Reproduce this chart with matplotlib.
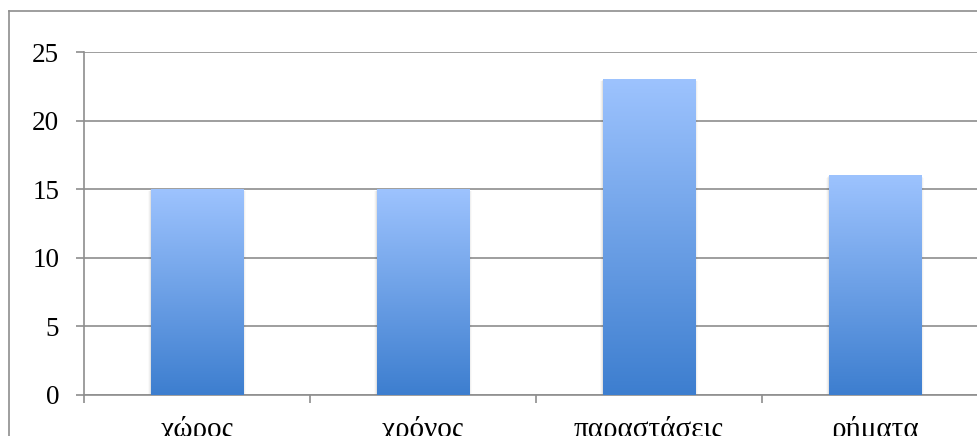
import numpy as np
import matplotlib
matplotlib.use("Agg")
import matplotlib.pyplot as plt
from matplotlib.patches import Rectangle
from matplotlib.colors import LinearSegmentedColormap

# ── DATA ──────────────────────────────────────────────────────────────────────
categories = ["χώρος", "χρόνος", "παραστάσεις", "ρήματα"]
values     = [15, 15, 23, 16]
y_ticks    = [0, 5, 10, 15, 20, 25]

# ── STYLE ─────────────────────────────────────────────────────────────────────
W, H, DPI = 978, 436, 100
GRID_C = "#8e8e8e"
TOP_C, BOT_C = "#9dc3fe", "#3d7ecf"
BAR_W = 0.41

plt.rcParams["font.family"] = ["Liberation Serif", "DejaVu Serif"]

fig = plt.figure(figsize=(W / DPI, H / DPI), dpi=DPI)

# outer chart frame (left/top visible, rest cut off)
fig.add_artist(plt.Line2D([9 / W, 9 / W], [0, 1 - 11 / H], color=GRID_C, lw=1.2))
fig.add_artist(plt.Line2D([9 / W, 1], [1 - 11 / H, 1 - 11 / H], color=GRID_C, lw=1.2))

left, right = 84 / W, 988 / W
bottom, top = 1 - 395 / H, 1 - 52 / H
ax = fig.add_axes([left, bottom, right - left, top - bottom])
ax.set_clip_on(False)

n = len(categories)
x = np.arange(n)

for sp in ["top", "right"]:
    ax.spines[sp].set_visible(False)
for sp in ["left", "bottom"]:
    ax.spines[sp].set_color(GRID_C)
    ax.spines[sp].set_linewidth(1.2)

ax.set_yticks(y_ticks)
ax.yaxis.grid(True, color=GRID_C, lw=1.2)
ax.set_axisbelow(True)
ax.tick_params(axis="y", length=5.8, width=1.2, color=GRID_C, pad=12,
               labelsize=19.5)

ax.set_xticks(x)
ax.set_xticklabels(categories)
ax.tick_params(axis="x", which="major", length=0, pad=15, labelsize=21)
ax.set_xticks(np.arange(n) - 0.5, minor=True)
ax.tick_params(axis="x", which="minor", length=5.8, width=1.2, color=GRID_C)

cmap = LinearSegmentedColormap.from_list("bar", [BOT_C, TOP_C])
grad = np.linspace(0, 1, 256).reshape(-1, 1)

bars = ax.bar(x, values, width=BAR_W, color="none", zorder=3)
for b in bars:
    bx, bw, bh = b.get_x(), b.get_width(), b.get_height()
    # soft shadow
    for k, a in enumerate([0.06, 0.04, 0.02]):
        d = 0.004 * (k + 1)
        ax.add_patch(Rectangle((bx - d, -0.05 * (k + 1)), bw + 2 * d, bh,
                               color="black", alpha=a, lw=0, zorder=2))
    im = ax.imshow(grad, cmap=cmap, origin="lower", aspect="auto",
                   extent=[bx, bx + bw, 0, bh], zorder=3)
    im.set_clip_path(b)

ax.set_xlim(-0.5, n - 0.5)
ax.set_ylim(0, 25)

fig.savefig("out.png", dpi=DPI)
